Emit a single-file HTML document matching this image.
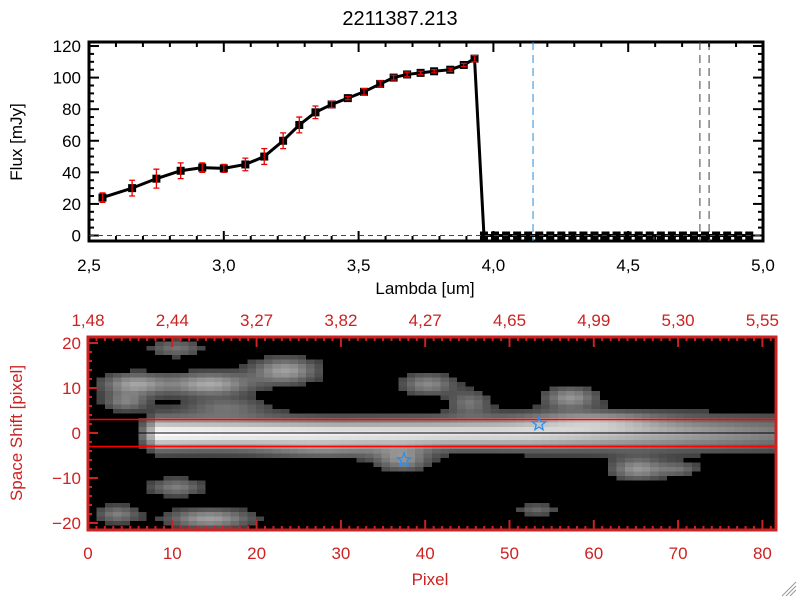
<!DOCTYPE html>
<html><head><meta charset="utf-8"><style>
html,body{margin:0;padding:0;background:#fff;width:800px;height:600px;overflow:hidden}
svg{display:block;font-family:"Liberation Sans",sans-serif}
</style></head><body>
<svg id="s" width="800" height="600" xmlns="http://www.w3.org/2000/svg">
<text x="400" y="25" font-size="20" text-anchor="middle">2211387.213</text>
<g id="top"></g>
<g id="bot"></g>
<path d="M786 596 L796 586 M790 596 L796 590 M782 596 L796 582" stroke="#999" stroke-width="1"/>
</svg>
<script>
const lam=[2.55,2.66,2.75,2.84,2.92,3.00,3.08,3.15,3.22,3.28,3.34,3.40,3.46,3.52,3.58,3.63,3.68,3.73,3.78,3.84,3.89,3.93];
const flux=[24,30,36,41,43,42.5,45,50,60,70,78,83,87,91,96,100,102,103,104,105,108,112];
const ferr=[3,5,6,5,3,2.5,4,5,5,5,4,2,1,2,2,1.5,1.5,1,1,1,1,2];
const zeroStart=3.965, zeroStep=0.041, zeroCount=25;
const lineLams=[4.147,4.766,4.80];
const xTicks=[2.5,3.0,3.5,4.0,4.5,5.0];
const yTicks=[0,20,40,60,80,100,120];
const topLabels=["1.48","2.44","3.27","3.82","4.27","4.65","4.99","5.30","5.55"];
const pxTicks=[0,10,20,30,40,50,60,70,80];
const shTicks=[20,10,0,-10,-20];
const stars=[[53.5,2],[37.5,-6]];
const blobs=[[10,19,2.3,1.4,0.35],[14,11,3.6,1.8,0.6],[5,11,2.8,1.7,0.55],[23,14,2.8,2,0.55],[4,7,1.9,1.4,0.4],[16,6,3.6,1.4,0.3],[40,11,2.3,1.7,0.45],[45,7,1.8,1.8,0.35],[57,8,2.3,1.7,0.5],[65,-8,2.3,1.7,0.5],[70,-8,1.8,1.1,0.3],[37,-6,2.3,1.8,0.45],[10,-12,2.3,1.4,0.4],[14,-19,3.6,1.5,0.55],[3,-18,1.8,1.4,0.4],[53,-17,1.8,1,0.3],[28,-4,5.5,1.4,0.25],[60,3,5.5,1.4,0.3]];
const NS="http://www.w3.org/2000/svg";
function el(p,t,a){const e=document.createElementNS(NS,t);for(const k in a)e.setAttribute(k,a[k]);p.appendChild(e);return e;}
const T=document.getElementById('top');
const X0=89,X1=763,Y0=241,Y1=42;
const xs=v=>X0+(v-2.5)*(X1-X0)/2.5;
const ys=v=>235.5-v*1.579;
let e=el(T,'rect',{x:X0,y:Y1,width:X1-X0,height:Y0-Y1,fill:'none',stroke:'#000','stroke-width':3});

for(let v=2.5;v<=5.0001;v+=0.1){const mj=Math.abs(v*2-Math.round(v*2))<1e-6;const L=mj?10:5;
el(T,'line',{x1:xs(v),x2:xs(v),y1:Y0,y2:Y0-L,stroke:'#000','stroke-width':2});el(T,'line',{x1:xs(v),x2:xs(v),y1:Y1,y2:Y1+L,stroke:'#000','stroke-width':2});}
for(let v=0;v<=120;v+=5){const L=v%20==0?10:5;el(T,'line',{x1:X0,x2:X0+L,y1:ys(v),y2:ys(v),stroke:'#000','stroke-width':2});el(T,'line',{x1:X1,x2:X1-L,y1:ys(v),y2:ys(v),stroke:'#000','stroke-width':2});}
xTicks.forEach(v=>{e=el(T,'text',{x:xs(v),y:271,'font-size':17,'text-anchor':'middle'});e.textContent=v.toFixed(1).replace('.',',');
});
yTicks.forEach(v=>{e=el(T,'text',{x:81,y:ys(v)+6,'font-size':17,'text-anchor':'end'});e.textContent=v;
});
e=el(T,'text',{x:425,y:294,'font-size':17,'text-anchor':'middle'});e.textContent='Lambda [um]';

e=el(T,'text',{x:0,y:0,'font-size':17,'text-anchor':'middle',transform:'translate(22,142) rotate(-90)'});e.textContent='Flux [mJy]';

lineLams.forEach(v=>{e=el(T,'line',{x1:xs(v),x2:xs(v),y1:Y1,y2:Y0,stroke:v<4.5?'#2090e0':'#444','stroke-width':1,'stroke-dasharray':'8,5'});
});
const allL=lam.slice(),allF=flux.slice();
for(let i=0;i<zeroCount;i++){allL.push(zeroStart+i*zeroStep);allF.push(0);}
e=el(T,'polyline',{points:allL.map((l,i)=>xs(l)+','+ys(allF[i])).join(' '),fill:'none',stroke:'#000','stroke-width':3});

allL.forEach((l,i)=>{e=el(T,'rect',{x:xs(l)-4,y:ys(allF[i])-4,width:8,height:8,fill:'#000'});
});
e=el(T,'line',{x1:X0,x2:X1,y1:ys(0),y2:ys(0),stroke:'#e00','stroke-width':1,'stroke-dasharray':'5,4'});

lam.forEach((l,i)=>{const x=xs(l),a=ys(flux[i]+ferr[i]),b=ys(flux[i]-ferr[i]);
e=el(T,'path',{d:`M${x} ${a}V${b}M${x-3} ${a}H${x+3}M${x-3} ${b}H${x+3}`,stroke:'#e00','stroke-width':1.3,fill:'none'});
});
const B=document.getElementById('bot');
const BX0=88,BX1=776,BY0=530,BY1=337;
const px=v=>88+v*8.43;
const py=v=>433-v*4.5;
const RED='#cc2222';
const fo=el(B,'foreignObject',{x:BX0,y:BY1,width:BX1-BX0,height:BY0-BY1});
const cv=document.createElement('canvas');cv.width=82;cv.height=43;
cv.style.cssText='width:'+(BX1-BX0)+'px;height:'+(BY0-BY1)+'px;image-rendering:pixelated;display:block';
fo.appendChild(cv);


const ctx=cv.getContext('2d');const im=ctx.createImageData(82,43);
for(let r=0;r<43;r++)for(let c=0;c<82;c++){const sy=21-r;let v=0;
const ramp=Math.max(0,Math.min(1,(c-5)/3));
const amp=ramp*(c<52?1-0.15*(c-8)/44:0.85-0.45*(c-52)/30);const w=2.2+0.015*Math.abs(c-30)-0.4*(1-ramp);v+=amp*Math.exp(-(sy*sy)/(2*w*w));
blobs.forEach(b=>{const dx=(c-b[0])/b[2],dy=(sy-b[1])/b[3];v+=b[4]*Math.exp(-(dx*dx+dy*dy)/2);});
let g=v<0.12?0:Math.min(255,Math.round(40+215*v));const k=(r*82+c)*4;im.data[k]=im.data[k+1]=im.data[k+2]=g;im.data[k+3]=255;}
ctx.putImageData(im,0,0);
[3,-3].forEach(v=>{e=el(B,'line',{x1:BX0,x2:BX1,y1:py(v),y2:py(v),stroke:'#f00','stroke-width':1.5});
});
e=el(B,'line',{x1:BX0,x2:BX1,y1:py(0),y2:py(0),stroke:'#000','stroke-width':1});

stars.forEach(s=>{const cx=px(s[0]),cy=py(s[1]);let d='';for(let i=0;i<10;i++){const a=-Math.PI/2+i*Math.PI/5,r=i%2?3:7;d+=(i?'L':'M')+(cx+r*Math.cos(a)).toFixed(1)+' '+(cy+r*Math.sin(a)).toFixed(1);}
e=el(B,'path',{d:d+'Z',fill:'none',stroke:'#2a8ff0','stroke-width':1.3});
});
e=el(B,'rect',{x:BX0,y:BY1,width:BX1-BX0,height:BY0-BY1,fill:'none',stroke:RED,'stroke-width':3});

for(let v=0;v<=81;v++){const L=v%10==0?10:4;el(B,'line',{x1:px(v),x2:px(v),y1:BY0,y2:BY0-L,stroke:RED,'stroke-width':2});el(B,'line',{x1:px(v),x2:px(v),y1:BY1,y2:BY1+L,stroke:RED,'stroke-width':2});}
for(let v=-20;v<=20;v+=2){const L=v%10==0?10:4;el(B,'line',{x1:BX0,x2:BX0+L,y1:py(v),y2:py(v),stroke:RED,'stroke-width':2});}
pxTicks.forEach(v=>{e=el(B,'text',{x:px(v),y:559,'font-size':17,'text-anchor':'middle',fill:RED});e.textContent=v;
});
topLabels.forEach((t,i)=>{e=el(B,'text',{x:px(i*10),y:326,'font-size':17,'text-anchor':'middle',fill:RED});e.textContent=t.replace('.',',');
});
shTicks.forEach(v=>{e=el(B,'text',{x:81,y:py(v)+6,'font-size':17,'text-anchor':'end',fill:RED});e.textContent=v<0?'\u2212'+(-v):v;
});
e=el(B,'text',{x:430,y:585,'font-size':17,'text-anchor':'middle',fill:RED});e.textContent='Pixel';

e=el(B,'text',{x:0,y:0,'font-size':17,'text-anchor':'middle',fill:RED,transform:'translate(22,433) rotate(-90)'});e.textContent='Space Shift [pixel]';

</script>
</body></html>
